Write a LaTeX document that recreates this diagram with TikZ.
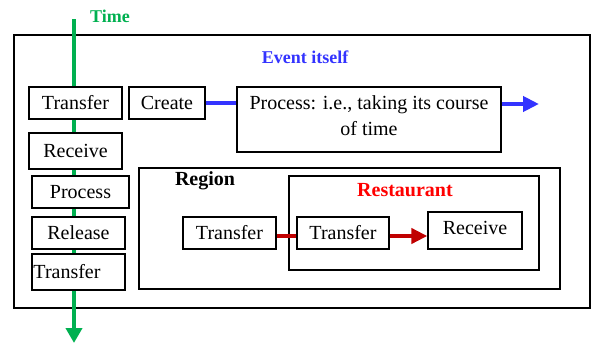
\documentclass[tikz,border=0pt]{standalone}
\usepackage{fontspec}
\setmainfont{Liberation Serif}
\usetikzlibrary{arrows.meta}
\definecolor{timegreen}{RGB}{0,176,80}
\definecolor{eventblue}{RGB}{51,51,255}
\definecolor{darkred}{RGB}{192,0,0}
\tikzset{
  txt/.style={font=\fontsize{20}{26}\selectfont},
  box/.style={draw=black, line width=1.3pt, fill=white, rectangle, inner sep=0pt, txt},
  frame/.style={draw=black, line width=1.3pt, rectangle, inner sep=0pt},
  heading/.style={font=\fontsize{20}{24}\selectfont\bfseries, inner sep=0pt},
  timeline/.style={draw=timegreen, line width=4pt, -{Triangle[length=15pt,width=16pt]}},
  eventline/.style={draw=eventblue, line width=4pt},
  flowline/.style={draw=darkred, line width=4pt},
}
\begin{document}
\begin{tikzpicture}[x=1pt, y=-1pt]
\useasboundingbox (0,0) rectangle (598,343);

% outer frame
\node[frame, minimum width=576pt, minimum height=273pt] (outer) at (302,171.5) {};

% time axis
\coordinate (ttop) at (74,19);
\coordinate (tend) at (74,343);
\draw[timeline] (ttop) -- (tend);
\node[heading, text=timegreen, font=\fontsize{18}{22}\selectfont\bfseries] (timelbl) at (110,16) {Time};

% event label
\node[heading, text=eventblue, font=\fontsize{18}{22}\selectfont\bfseries] (eventlbl) at (305,57) {Event itself};

% left column of steps along the time axis
\node[box, minimum width=93pt, minimum height=32pt] (t1) at (75.5,103) {Transfer};
\node[box, minimum width=93pt, minimum height=36pt] (r1) at (75.5,151) {Receive};
\node[box, minimum width=97pt, minimum height=32pt] (p1) at (80.5,192) {Process};
\node[box, minimum width=93pt, minimum height=32pt] (rel) at (78.5,233) {Release};
\node[box, minimum width=93pt, minimum height=36pt, text width=90pt, align=left, inner xsep=1.5pt] (t2) at (78.5,272) {Transfer};

% event course
\node[box, minimum width=76pt, minimum height=32pt] (create) at (167,103) {Create};
\node[box, minimum width=264pt, minimum height=65pt] (proc) at (369,119.5) {};
\node[txt, align=center, inner sep=0pt] (proctxt) at (369,115.5) {Process: i.e., taking its course\\of time};
\coordinate (evend) at (539,104);
\draw[eventline] (create.east) -- (create.east -| proc.west);
\draw[eventline, -{Triangle[length=16pt,width=15pt]}] (proc.east |- evend) -- (evend);

% region and restaurant
\node[frame, minimum width=421pt, minimum height=121pt] (region) at (349.5,228.5) {};
\node[heading] (regionlbl) at (205,181) {Region};
\node[frame, minimum width=250pt, minimum height=94pt] (rest) at (414,223) {};
\node[heading, text=red] (restlbl) at (405,190) {Restaurant};

\node[box, minimum width=93pt, minimum height=32pt] (rt) at (229.5,233) {Transfer};
\node[box, minimum width=92pt, minimum height=32pt] (tin) at (343,233) {Transfer};
\node[box, minimum width=94pt, minimum height=37pt, text depth=6pt] (rin) at (475,230.5) {Receive};

\coordinate (flowy) at (0,236);
\draw[flowline] (rt.east |- flowy) -- (tin.west |- flowy);
\draw[flowline, -{Triangle[length=16pt,width=15pt]}] (tin.east |- flowy) -- (rin.west |- flowy);
\end{tikzpicture}
\end{document}
